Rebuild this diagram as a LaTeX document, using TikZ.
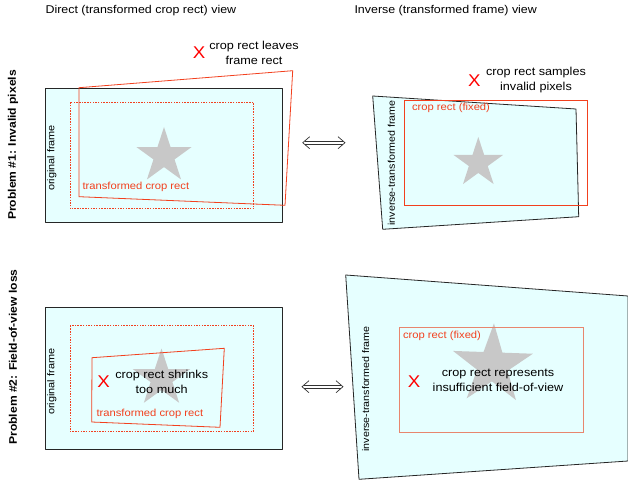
\documentclass[tikz,border=0pt]{standalone}
\usepackage{fontspec}
\setmainfont[FakeStretch=1.1]{Liberation Sans}
\usetikzlibrary{shapes.geometric}

\definecolor{framefill}{HTML}{E6FFFF}
\definecolor{cropred}{HTML}{F2401E}
\definecolor{fixedred}{HTML}{E8866E}
\definecolor{stargray}{HTML}{C8C8C8}

\tikzset{
  frame/.style={draw=black!85, fill=framefill, line width=0.8pt, line join=round},
  croprect/.style={draw=cropred, line width=0.8pt},
  cropdashed/.style={draw=cropred, dash pattern=on 1.5pt off 1.2pt, line width=0.7pt},
  staricon/.style={star, star points=5, star point ratio=2.618, fill=stargray, inner sep=0pt},
  heading/.style={font=\fontsize{11.3}{13}\selectfont, anchor=west},
  problem/.style={rotate=90, font=\fontsize{11}{14}\selectfont\bfseries},
  framelabel/.style={rotate=90, font=\fontsize{9.9}{11}\selectfont},
  croplabel/.style={text=cropred, font=\fontsize{10.2}{12}\selectfont, anchor=west},
  note/.style={align=center, font=\fontsize{11.5}{15}\selectfont},
  cross/.style={text=red, font=\fontsize{17}{17}\selectfont},
  swapline/.style={draw=black!80, line width=0.7pt, line join=round}
}

% double arrow between two named points
\newcommand{\swaparrow}[2]{%
  \draw[swapline] ([shift={(2,-1.7)}]#1) -- ([shift={(-2,-1.7)}]#2);
  \draw[swapline] ([shift={(2,1.7)}]#1) -- ([shift={(-2,1.7)}]#2);
  \draw[swapline] ([shift={(7,-6)}]#1) -- (#1) -- ([shift={(7,6)}]#1);
  \draw[swapline] ([shift={(-7,-6)}]#2) -- (#2) -- ([shift={(-7,6)}]#2);
}

\begin{document}
\begin{tikzpicture}[x=1pt,y=-1pt]
  \useasboundingbox (0,0) rectangle (628,481);

  % column headings
  \node[heading] (direct) at (42,11) {Direct (transformed crop rect) view};
  \node[heading] (inverse) at (351,11) {Inverse (transformed frame) view};

  % row headings
  \node[problem] (prob1) at (13,145) {Problem \#1: Invalid pixels};
  \node[problem] (prob2) at (13,357) {Problem \#2: Field-of-view loss};

  % problem 1, direct view
  \draw[frame] (45.7,88) rectangle (282.7,222.3);
  \draw[cropdashed] (70,102.3) rectangle (253.7,208.7);
  \node[staricon, minimum size=58pt] (star1) at (164,156) {};
  \draw[croprect] (79,87.7) -- (292.7,70.7) -- (285,205.3) -- (79,196.7) -- cycle;
  \node[framelabel] (orig1) at (51.7,158) {original frame};
  \node[croplabel] (trans1) at (79,187) {transformed crop rect};
  \node[cross] (x1) at (199,53) {X};
  \node[note] (leaves) at (254,52.5) {crop rect leaves\\frame rect};

  % problem 1, inverse view
  \draw[frame] (372.7,96) -- (576,109) -- (578.7,216.7) -- (382.7,229.3) -- cycle;
  \node[staricon, minimum size=52pt] (star2) at (478.3,163) {};
  \draw[croprect] (404.3,100) rectangle (587.7,205.7);
  \node[framelabel, font=\fontsize{9.7}{12}\selectfont] (inv1) at (391.5,163) {inverse-transformed frame};
  \node[croplabel] (fixed1) at (408.5,108) {crop rect (fixed)};
  \node[cross] (x2) at (474.3,81) {X};
  \node[note] (samples) at (536,80.5) {crop rect samples\\invalid pixels};

  % problem 2, direct view
  \draw[frame] (45.7,307.3) rectangle (282.7,449.3);
  \draw[cropdashed] (70,325.7) rectangle (253.7,431.3);
  \node[staricon, minimum size=60pt] (star3) at (161.5,378.5) {};
  \draw[croprect] (92,357.7) -- (224.3,348.3) -- (220,427.3) -- (91.7,422) -- cycle;
  \node[framelabel] (orig2) at (51.7,381.7) {original frame};
  \node[croplabel] (trans2) at (93,414) {transformed crop rect};
  \node[cross] (x3) at (103.7,381.7) {X};
  \node[note] (shrinks) at (161.7,382.3) {crop rect shrinks\\too much};

  % problem 2, inverse view
  \draw[frame] (345.7,275) -- (628,296) -- (628,461) -- (359,479.3) -- cycle;
  \node[staricon, minimum size=84pt, rotate=-2] (star4) at (492.5,365.3) {};
  \draw[croprect, draw=fixedred] (399.3,327.3) rectangle (583.3,432.7);
  \node[framelabel, font=\fontsize{9.7}{12}\selectfont] (inv2) at (365.7,389) {inverse-transformed frame};
  \node[croplabel] (fixed2) at (399.5,335.7) {crop rect (fixed)};
  \node[cross] (x4) at (414,381.7) {X};
  \node[note] (fov) at (498,380) {crop rect represents\\insufficient field-of-view};

  % direct <=> inverse
  \coordinate (swap1l) at (302.7,142.7);
  \coordinate (swap1r) at (345,142.7);
  \coordinate (swap2l) at (302,386.7);
  \coordinate (swap2r) at (343,386.7);
  \swaparrow{swap1l}{swap1r}
  \swaparrow{swap2l}{swap2r}
\end{tikzpicture}
\end{document}
